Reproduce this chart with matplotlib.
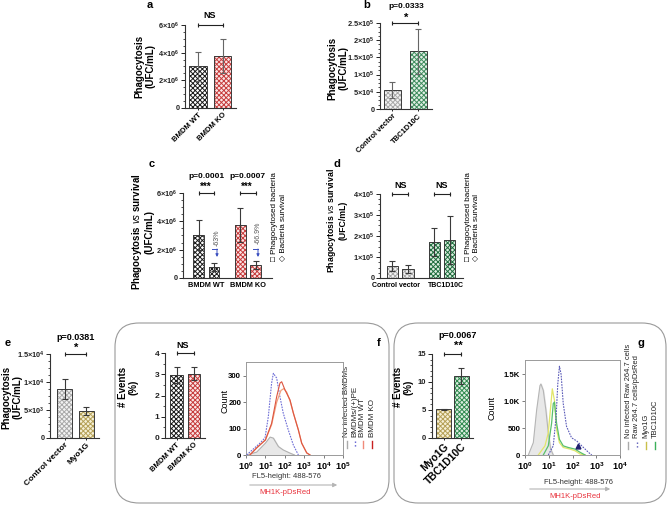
import numpy as np
import matplotlib
matplotlib.use('Agg')
import matplotlib.pyplot as plt
from matplotlib.patches import FancyBboxPatch
from matplotlib.ticker import AutoMinorLocator

# ---- data ----
a_labels = ['BMDM WT', 'BMDM KO']
a_values = [3.0e6, 3.75e6]
a_err = [1.05e6, 1.25e6]

b_labels = ['Control vector', 'TBC1D10C']
b_values = [0.55e5, 1.68e5]
b_err = [0.24e5, 0.66e5]

c_groups = ['BMDM WT', 'BMDM KO']
c_phago = [3.03e6, 3.75e6]
c_phago_err = [1.06e6, 1.2e6]
c_surv = [0.78e6, 0.92e6]
c_surv_err = [0.28e6, 0.28e6]
c_pvals = ['p=0.0001', 'p=0.0007']
c_drop = ['-63%', '-66.9%']

d_groups = ['Control vector', 'TBC1D10C']
d_phago = [0.57e5, 1.71e5]
d_phago_err = [0.24e5, 0.67e5]
d_surv = [0.43e5, 1.81e5]
d_surv_err = [0.19e5, 1.14e5]

e_labels = ['Control vector', 'Myo1G']
e_values = [0.875e4, 0.48e4]
e_err = [0.175e4, 0.07e4]

f_labels = ['BMDM WT', 'BMDM KO']
f_values = [2.95, 3.02]
f_err = [0.38, 0.3]

g_labels = ['Myo1G', 'TBC1D10C']
g_values = [5.1, 11.1]
g_err = [0.15, 1.4]

# flow cytometry histograms, x in log10(FL5-height)
f_hist_names = ['No infected BMDMs', 'BMDMs/(+)PE', 'BMDM WT', 'BMDM KO']
f_none_x = [0.03, 0.55, 1.0, 1.24, 1.41, 1.67, 1.92, 2.27, 2.5]
f_none_y = [0, 11, 45, 68, 64, 32, 19, 7, 0]
f_pe_x = [0.03, 0.72, 0.98, 1.15, 1.32, 1.41, 1.58, 1.75, 1.92, 2.18, 2.44, 2.7]
f_pe_y = [0, 45, 65, 145, 273, 310, 292, 221, 159, 95, 38, 0]
f_wt_x = [0.2, 0.55, 1.0, 1.32, 1.58, 1.8, 1.95, 2.1, 2.27, 2.44, 2.7, 2.87, 3.13, 3.3]
f_wt_y = [0, 27, 57, 115, 200, 245, 252, 238, 205, 160, 95, 45, 8, 0]
f_ko_x = [0.2, 0.55, 1.0, 1.32, 1.58, 1.75, 1.84, 2.01, 2.27, 2.44, 2.7, 2.87, 3.13, 3.3]
f_ko_y = [0, 27, 57, 120, 221, 273, 278, 247, 209, 159, 95, 45, 8, 0]

g_hist_names = ['No infected Raw 264.7 cells', 'Raw 264.7 cells/pDsRed', 'Myo1G', 'TBC1D10C']
g_none_x = [0.14, 0.35, 0.49, 0.63, 0.67, 0.77, 0.88, 0.98, 1.08, 1.19]
g_none_y = [0, 230, 835, 1290, 1320, 1200, 835, 410, 110, 0]
g_raw_x = [0.98, 1.19, 1.31, 1.38, 1.45, 1.52, 1.61, 1.75, 1.96, 2.18, 2.32, 2.46, 2.67, 2.81]
g_raw_y = [0, 170, 715, 1320, 1650, 1500, 955, 530, 320, 260, 200, 140, 50, 0]
g_myo_x = [0.56, 0.84, 0.98, 1.08, 1.15, 1.24, 1.33, 1.45, 1.61, 1.89, 2.1, 2.32, 2.53]
g_myo_y = [0, 170, 410, 895, 1230, 1015, 470, 230, 140, 110, 80, 18, 0]
g_tbc_x = [0.77, 0.98, 1.12, 1.19, 1.24, 1.33, 1.45, 1.61, 1.82, 2.1, 2.32, 2.53]
g_tbc_y = [0, 170, 590, 955, 985, 590, 290, 170, 140, 110, 50, 0]
g_gate_x = [2.25]
g_gate_y = [170]

# ---- style ----
plt.rcParams['font.family'] = ['Liberation Sans', 'DejaVu Sans']
plt.rcParams['mathtext.fontset'] = 'custom'
plt.rcParams['mathtext.rm'] = 'Liberation Sans'
plt.rcParams['mathtext.bf'] = 'Liberation Sans:bold'
plt.rcParams['mathtext.it'] = 'Liberation Sans:italic'
plt.rcParams['hatch.linewidth'] = 0.7

W, H = 668, 505
fig = plt.figure(figsize=(W / 100, H / 100), dpi=100)

# overlay in pixel coordinates for boxes and annotations
ov = fig.add_axes([0, 0, 1, 1], zorder=-1)
ov.set_xlim(0, W)
ov.set_ylim(H, 0)
ov.axis('off')


def add_ax(l, t, r, b):
    ax = fig.add_axes([l / W, 1 - b / H, (r - l) / W, (b - t) / H])
    ax.patch.set_alpha(0)
    return ax


def sci(m, e):
    return r'$\mathbf{%s{\times}10^{%d}}$' % (m, e)


def style_bars(ax, xlim, ymax, ticks, ticklabels, fs=5.3):
    ax.set_xlim(*xlim)
    ax.set_ylim(0, ymax)
    for s in ['top', 'right']:
        ax.spines[s].set_visible(False)
    for s in ['left', 'bottom']:
        ax.spines[s].set_linewidth(0.8)
        ax.spines[s].set_color('#333333')
    ax.set_yticks(ticks)
    ax.set_yticklabels(ticklabels, fontsize=fs, fontweight='bold')
    ax.yaxis.set_minor_locator(AutoMinorLocator(4))
    ax.tick_params(axis='y', which='major', length=3, width=0.7, pad=1, colors='#222222')
    ax.tick_params(axis='y', which='minor', length=1.8, width=0.6, colors='#333333')
    ax.tick_params(axis='x', length=1.5, width=0.6, pad=1)


def checker(ax, x, h, w, face, hatch_col, err, ecol='#3a3a3a'):
    ax.bar(x, h, w, color=face, edgecolor=hatch_col, hatch='xxxxxxx', lw=0, zorder=2)
    ax.bar(x, h, w, fill=False, edgecolor='#3a3a3a', lw=0.7, zorder=3)
    ax.errorbar(x, h, yerr=err, fmt='none', ecolor=ecol, elinewidth=0.8,
                capsize=2.5, capthick=0.8, zorder=4)


def bracket(ax, x0, x1, y):
    ax.plot([x0, x1], [y, y], color='#222222', lw=0.8, marker='|', ms=3.5,
            mew=0.8, clip_on=False, zorder=5)


def xlabels45(ax, labels, fs=5.5):
    ax.set_xticks([0, 1])
    ax.set_xticklabels(labels, rotation=45, ha='right', rotation_mode='anchor',
                       fontsize=fs, fontweight='bold')


WT = ('#ffffff', '#1a1a1a')
KO = ('#fbe6e6', '#c63c3c')
CV = ('#f3f3f3', '#a9a9a9')
TBC_light = ('#e2efe5', '#3f8c5e')
TBC_dark = ('#dcede0', '#1f6e3e')
MYO = ('#f6f0d6', '#b5a158')

# ---- panel a ----
ax = add_ax(185, 25, 236, 108)
checker(ax, [0, 1], a_values, 0.73, [WT[0], KO[0]], [WT[1], KO[1]], a_err, '#666666')
style_bars(ax, (-0.53, 1.55), 6e6, [0, 2e6, 4e6, 6e6],
           ['0', sci(2, 6), sci(4, 6), sci(6, 6)])
xlabels45(ax, a_labels)
bracket(ax, 0, 1, 6e6)
ov.text(210, 15, 'NS', ha='center', va='center', fontsize=6.5, fontweight='bold')
ov.text(145, 66, 'Phagocytosis\n(UFC/mL)', rotation=90, ha='center', va='center',
        fontsize=7, fontweight='bold', linespacing=1.1)
ov.text(150, 5, 'a', ha='center', va='center', fontsize=8, fontweight='bold')

# ---- panel b ----
ax = add_ax(380, 23, 432, 109)
checker(ax, [0, 1], b_values, 0.65, [CV[0], TBC_light[0]], [CV[1], TBC_light[1]], b_err, '#666666')
style_bars(ax, (-0.48, 1.52), 2.5e5, [0, 0.5e5, 1e5, 1.5e5, 2e5, 2.5e5],
           ['0', sci(5, 4), sci(1, 5), sci(1.5, 5), sci(2, 5), sci(2.5, 5)])
xlabels45(ax, b_labels)
bracket(ax, 0, 1, 2.5e5)
ov.text(406, 7, 'p=0.0333', ha='center', va='center', fontsize=6, fontweight='bold')
ov.text(406, 18, '*', ha='center', va='center', fontsize=8, fontweight='bold')
ov.text(338, 68, 'Phagocytosis\n(UFC/mL)', rotation=90, ha='center', va='center',
        fontsize=7, fontweight='bold', linespacing=1.1)
ov.text(367, 5, 'b', ha='center', va='center', fontsize=8, fontweight='bold')

# ---- panel c ----
pos1 = np.array([0, 2.7])
pos2 = pos1 + 1
ax = add_ax(183, 193, 272, 278)
checker(ax, pos1, c_phago, 0.7, [WT[0], KO[0]], [WT[1], KO[1]], c_phago_err)
checker(ax, pos2, c_surv, 0.7, [WT[0], KO[0]], [WT[1], KO[1]], c_surv_err)
style_bars(ax, (-1.0, 4.74), 6e6, [0, 2e6, 4e6, 6e6],
           ['0', sci(2, 6), sci(4, 6), sci(6, 6)])
ax.set_xticks((pos1 + pos2) / 2)
ax.set_xticklabels(c_groups, fontsize=5.3, fontweight='bold')
ax.tick_params(axis='x', length=0, pad=3)
for i in range(2):
    bracket(ax, pos1[i], pos2[i], 6e6)
for xc, p in zip([206, 247], c_pvals):
    ov.text(xc, 177, p, ha='center', va='center', fontsize=6, fontweight='bold')
    ov.text(xc, 187, '***', ha='center', va='center', fontsize=7, fontweight='bold')
for xt, yt, s in zip([217, 258], [238, 233], c_drop):
    ov.text(xt, yt, s, rotation=90, ha='center', va='center', fontsize=5, color='#555555')
    ov.plot([xt - 5, xt], [249, 249], color='#3a4fc0', lw=0.7)
    ov.annotate('', xy=(xt, 257), xytext=(xt, 249),
                arrowprops=dict(arrowstyle='-|>', color='#3a4fc0', lw=0.7,
                                mutation_scale=4, shrinkA=0, shrinkB=0))
ov.text(142, 232, 'Phagocytosis $\\mathit{vs}$ survival\n(UFC/mL)', rotation=90,
        ha='center', va='center', fontsize=7, fontweight='bold', linespacing=1.1)
ov.text(275, 261, '\u25a1 Phagocytosed bacteria', rotation=90, ha='center', va='bottom', fontsize=5.8)
ov.text(284, 261, '\u25c7 Bacteria survival', rotation=90, ha='center', va='bottom', fontsize=5.8)
ov.text(152, 164, 'c', ha='center', va='center', fontsize=8, fontweight='bold')

# ---- panel d ----
pos1 = np.array([0, 2.6])
pos2 = pos1 + 0.97
ax = add_ax(380, 194, 463, 278)
checker(ax, pos1, d_phago, 0.7, [CV[0], TBC_dark[0]], [CV[1], TBC_dark[1]], d_phago_err)
checker(ax, pos2, d_surv, 0.7, [CV[0], TBC_dark[0]], [CV[1], TBC_dark[1]], d_surv_err)
style_bars(ax, (-0.78, 4.4), 4e5, [0, 1e5, 2e5, 3e5, 4e5],
           ['0', sci(1, 5), sci(2, 5), sci(3, 5), sci(4, 5)])
ax.set_xticks((pos1 + pos2) / 2 + np.array([-0.25, 0.25]))
ax.set_xticklabels(d_groups, fontsize=5.0, fontweight='bold')
ax.tick_params(axis='x', length=0, pad=3)
for i in range(2):
    bracket(ax, pos1[i], pos2[i], 4e5)
for xc in [401, 442]:
    ov.text(xc, 185, 'NS', ha='center', va='center', fontsize=6.5, fontweight='bold')
ov.text(336, 220, 'Phagocytosis $\\mathit{vs}$ survival\n(UFC/mL)', rotation=90,
        ha='center', va='center', fontsize=6.3, fontweight='bold', linespacing=1.1)
ov.text(468, 261, '\u25a1 Phagocytosed bacteria', rotation=90, ha='center', va='bottom', fontsize=5.8)
ov.text(477, 261, '\u25c7 Bacteria survival', rotation=90, ha='center', va='bottom', fontsize=5.8)
ov.text(337, 164, 'd', ha='center', va='center', fontsize=8, fontweight='bold')

# ---- panel e ----
ax = add_ax(50, 354, 99, 438)
checker(ax, [0, 1], e_values, 0.68, [CV[0], MYO[0]], [CV[1], MYO[1]], e_err)
style_bars(ax, (-0.66, 1.57), 1.5e4, [0, 0.5e4, 1e4, 1.5e4],
           ['0', sci(5, 3), sci(1, 4), sci(1.5, 4)])
xlabels45(ax, e_labels, fs=6)
bracket(ax, 0, 1, 1.5e4)
ov.text(76, 337, 'p=0.0381', ha='center', va='center', fontsize=6.5, fontweight='bold')
ov.text(76, 348, '*', ha='center', va='center', fontsize=8, fontweight='bold')
ov.text(12, 397, 'Phagocytosis\n(UFC/mL)', rotation=90, ha='center', va='center',
        fontsize=7, fontweight='bold', linespacing=1.1)
ov.text(8, 343, 'e', ha='center', va='center', fontsize=8, fontweight='bold')

# ---- boxes f and g ----
for x0, x1 in [(115, 389), (394, 666)]:
    ov.add_patch(FancyBboxPatch((x0, 323), x1 - x0, 180,
                                boxstyle='round,pad=0,rounding_size=24',
                                fill=False, ec='#9a9a9a', lw=0.8))

# ---- panel f bars ----
ax = add_ax(165, 353, 205, 438)
checker(ax, [0, 1], f_values, 0.74, [WT[0], KO[0]], [WT[1], KO[1]], f_err)
style_bars(ax, (-0.66, 1.63), 4, [0, 1, 2, 3, 4], ['0', '1', '2', '3', '4'], fs=6)
ax.yaxis.set_minor_locator(AutoMinorLocator(2))
xlabels45(ax, f_labels, fs=5.5)
bracket(ax, 0, 1, 4)
ov.text(183, 345, 'NS', ha='center', va='center', fontsize=6.5, fontweight='bold')
ov.text(128, 387, '# Events\n(%)', rotation=90, ha='center', va='center',
        fontsize=7, fontweight='bold', linespacing=1.1)
ov.text(379, 343, 'f', ha='center', va='center', fontsize=8, fontweight='bold')


def style_hist(ax, xmax, ymax, yticks, yticklabels):
    ax.set_xscale('log')
    ax.set_xlim(1, 10 ** xmax)
    ax.set_ylim(0, ymax)
    for s in ax.spines.values():
        s.set_color('#9a9a9a')
        s.set_linewidth(0.7)
    ax.set_xticks([10 ** k for k in range(xmax + 1)])
    ax.set_xticklabels([r'$\mathbf{10^{%d}}$' % k for k in range(xmax + 1)], fontsize=6.5)
    ax.set_yticks(yticks)
    ax.set_yticklabels(yticklabels, fontsize=5.6, fontweight='bold')
    ax.tick_params(which='major', length=2.5, width=0.6, pad=1, color='#666666')
    ax.tick_params(which='minor', length=1.2, width=0.4, color='#888888')


def hist_line(ax, xs, ys, **kw):
    return ax.plot(np.power(10.0, xs), ys, **kw)


# ---- panel f histogram ----
ax = add_ax(246, 362, 343, 455)
style_hist(ax, 5, 353, [0, 100, 200, 300], ['0', '100', '200', '300'])
ax.fill_between(np.power(10.0, f_none_x), f_none_y, color='#e8e8e8', zorder=1)
hist_line(ax, f_none_x, f_none_y, color='#b0b0b0', lw=0.8, zorder=2)
hist_line(ax, f_pe_x, f_pe_y, color='#6d6dd6', lw=0.8, ls=(0, (1.5, 1)), zorder=3)
hist_line(ax, f_wt_x, f_wt_y, color='#f2a07e', lw=0.9, zorder=3)
hist_line(ax, f_ko_x, f_ko_y, color='#dd5540', lw=0.8, zorder=4)
f_cols = [('#aaaaaa', '-'), ('#5a5ad0', ':'), ('#f08a7a', '-'), ('#c82020', '-')]
for xl, name, (c, ls) in zip([347, 355, 363, 372], f_hist_names, f_cols):
    ov.text(xl, 437, name, rotation=90, ha='center', va='bottom', fontsize=5.8, color='#222222')
    ov.plot([xl, xl], [441, 448], color=c, ls=ls, lw=1.0)
ov.text(225, 401, 'Count', rotation=90, ha='center', va='center', fontsize=6.5)
ov.text(286, 476, 'FL5-height: 488-576', ha='center', va='center', fontsize=5.5, color='#333333')
ov.annotate('', xy=(340, 485), xytext=(247, 485),
            arrowprops=dict(arrowstyle='-|>', color='#b5b5b5', lw=0.8, mutation_scale=6))
ov.text(285, 493, 'MH1K-pDsRed', ha='center', va='center', fontsize=5.5, color='#e8323c')

# ---- panel g bars ----
ax = add_ax(432, 354, 473, 438)
checker(ax, [0, 1], g_values, 0.83, [MYO[0], TBC_dark[0]], [MYO[1], '#2f8a4f'], g_err)
style_bars(ax, (-0.64, 1.64), 15, [0, 5, 10, 15], ['0', '5', '10', '15'], fs=5.5)
ax.yaxis.set_minor_locator(AutoMinorLocator(5))
xlabels45(ax, g_labels, fs=7.5)
bracket(ax, 0, 1, 15)
ov.text(458, 335, 'p=0.0067', ha='center', va='center', fontsize=6.5, fontweight='bold')
ov.text(458, 346, '**', ha='center', va='center', fontsize=8, fontweight='bold')
ov.text(403, 387, '# Events\n(%)', rotation=90, ha='center', va='center',
        fontsize=7, fontweight='bold', linespacing=1.1)
ov.text(641, 343, 'g', ha='center', va='center', fontsize=8, fontweight='bold')

# ---- panel g histogram ----
ax = add_ax(525, 360, 620, 455)
style_hist(ax, 4, 1766, [0, 500, 1000, 1500], ['0', '500', '1.0K', '1.5K'])
ax.fill_between(np.power(10.0, g_none_x), g_none_y, color='#e8e8e8', zorder=1)
hist_line(ax, g_none_x, g_none_y, color='#b5b5b5', lw=0.8, zorder=2)
hist_line(ax, g_myo_x, g_myo_y, color='#e2e66a', lw=0.9, zorder=3)
hist_line(ax, g_tbc_x, g_tbc_y, color='#59c06c', lw=0.9, zorder=3)
hist_line(ax, g_raw_x, g_raw_y, color='#5a5ab8', lw=0.8, ls=(0, (1.5, 1)), zorder=4)
hist_line(ax, g_gate_x, g_gate_y, color='#1f1f6e', marker='^', ms=3.5, ls='none', zorder=5)
g_cols = [('#aaaaaa', '-'), ('#5a5ab8', ':'), ('#c9c04a', '-'), ('#3cb05a', '-')]
for xl, name, (c, ls) in zip([628, 637, 646, 655], g_hist_names, g_cols):
    ov.text(xl, 438, name, rotation=90, ha='center', va='bottom', fontsize=5.4, color='#222222')
    ov.plot([xl, xl], [442, 449], color=c, ls=ls, lw=1.0)
ov.text(492, 408, 'Count', rotation=90, ha='center', va='center', fontsize=6.5)
ov.text(578, 482, 'FL5-height: 488-576', ha='center', va='center', fontsize=5.5, color='#333333')
ov.annotate('', xy=(613, 489), xytext=(527, 489),
            arrowprops=dict(arrowstyle='-|>', color='#b5b5b5', lw=0.8, mutation_scale=6))
ov.text(575, 497, 'MH1K-pDsRed', ha='center', va='center', fontsize=5.5, color='#e8323c')

fig.savefig('out.png', dpi=100)
